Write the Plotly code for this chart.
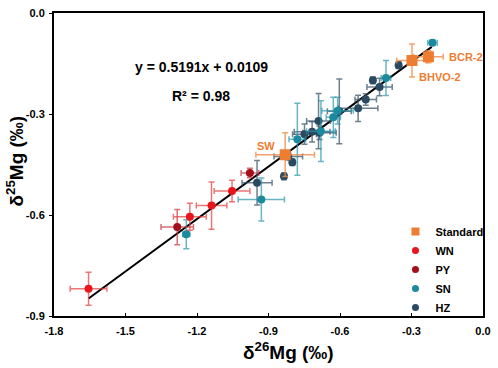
import plotly.graph_objects as go

# ---------------- data ----------------
std_names = ["SW", "BHVO-2", "BCR-2"]
std_x = [-0.830, -0.298, -0.229]
std_y = [-0.421, -0.141, -0.130]
std_xerr = [0.123, 0.064, 0.062]
std_yerr = [0.065, 0.049, 0.018]

wn_x = [-1.655, -1.230, -1.139, -1.053]
wn_y = [-0.819, -0.605, -0.572, -0.529]
wn_xerr = [0.077, 0.069, 0.064, 0.075]
wn_yerr = [0.049, 0.040, 0.070, 0.032]

py_x = [-1.283, -0.978]
py_y = [-0.636, -0.475]
py_xerr = [0.068, 0.037]
py_yerr = [0.052, 0.014]

sn_x = [-1.245, -0.930, -0.779, -0.680, -0.628, -0.610, -0.407, -0.212]
sn_y = [-0.657, -0.554, -0.375, -0.351, -0.310, -0.290, -0.193, -0.088]
sn_xerr = [0.015, 0.097, 0.035, 0.060, 0.030, 0.066, 0.020, 0.020]
sn_yerr = [0.043, 0.064, 0.107, 0.090, 0.060, 0.040, 0.052, 0.008]

hz_x = [-0.948, -0.835, -0.817, -0.800, -0.749, -0.717, -0.690, -0.686,
        -0.603, -0.524, -0.492, -0.434, -0.462, -0.354]
hz_y = [-0.504, -0.485, -0.426, -0.443, -0.360, -0.353, -0.321, -0.356,
        -0.292, -0.283, -0.257, -0.220, -0.200, -0.155]
hz_xerr = [0.063, 0.010, 0.060, 0.010, 0.050, 0.075, 0.050, 0.070,
           0.050, 0.083, 0.045, 0.053, 0.010, 0.010]
hz_yerr = [0.066, 0.010, 0.010, 0.010, 0.030, 0.030, 0.082, 0.020,
           0.096, 0.039, 0.017, 0.026, 0.010, 0.010]

fit_slope = 0.5191
fit_intercept = 0.0109
fit_x = [-1.655, -0.215]
fit_y = [fit_slope * v + fit_intercept for v in fit_x]

x_ticks = [-1.8, -1.5, -1.2, -0.9, -0.6, -0.3, 0.0]
y_ticks = [0.0, -0.3, -0.6, -0.9]

legend_names = ["Standard", "WN", "PY", "SN", "HZ"]

FONT = "Liberation Sans, Arial, sans-serif"
C_STD = "#ED7D31"
C_WN = "#E8161B"
C_PY = "#A50F1C"
C_SN = "#1B8A9E"
C_HZ = "#2B4A62"

W, H = 498, 368
L, R, T, B = 54, 10, 7, 52
pw, ph = W - L - R, H - T - B


def err(vals, color):
    return dict(type="data", array=vals, visible=True, color=color,
                thickness=1.5, width=3)


fig = go.Figure()

fig.add_trace(go.Scatter(x=fit_x, y=fit_y, mode="lines",
                         line=dict(color="black", width=2),
                         showlegend=False, hoverinfo="skip"))

series = [
    ("HZ", hz_x, hz_y, hz_xerr, hz_yerr, C_HZ, "rgba(60,85,105,0.75)", "circle", 8),
    ("SN", sn_x, sn_y, sn_xerr, sn_yerr, C_SN, "rgba(40,150,170,0.7)", "circle", 8),
    ("PY", py_x, py_y, py_xerr, py_yerr, C_PY, "rgba(200,50,60,0.7)", "circle", 8),
    ("WN", wn_x, wn_y, wn_xerr, wn_yerr, C_WN, "rgba(225,60,60,0.7)", "circle", 8),
    ("Standard", std_x, std_y, std_xerr, std_yerr, C_STD, "rgba(240,140,70,0.8)", "square", 11),
]
colors = {}
symbols = {}
for name, xs, ys, xe, ye, col, ecol, sym, sz in series:
    colors[name] = col
    symbols[name] = sym
    fig.add_trace(go.Scatter(
        x=xs, y=ys, mode="markers", name=name, showlegend=False,
        marker=dict(color=col, symbol=sym, size=sz),
        error_x=err(xe, ecol), error_y=err(ye, ecol)))

# legend entries (small symbols as in the reference)
for i, name in enumerate(legend_names):
    fig.add_trace(go.Scatter(
        x=[None], y=[None], mode="markers", name=name,
        marker=dict(color=colors[name], symbol=symbols[name],
                    size=8 if symbols[name] == "square" else 7),
        legendrank=i + 1))

ann_font = dict(family=FONT, size=14, color="black", weight="bold")
lab_font = dict(family=FONT, size=11, color=C_STD, weight="bold")
title_font = dict(family=FONT, size=19, color="black", weight="bold")
annotations = [
    dict(text="y = 0.5191x + 0.0109", x=(203 - L) / pw, y=(H - B - 62) / ph,
         xref="paper", yref="paper", xanchor="center", yanchor="middle",
         showarrow=False, font=ann_font),
    dict(text="R² = 0.98", x=(203 - L) / pw, y=(H - B - 92) / ph,
         xref="paper", yref="paper", xanchor="center", yanchor="middle",
         showarrow=False, font=ann_font),
    dict(text="BCR-2", x=-0.150, y=-0.131, xanchor="left", yanchor="middle",
         showarrow=False, font=lab_font),
    dict(text="BHVO-2", x=-0.275, y=-0.189, xanchor="left", yanchor="middle",
         showarrow=False, font=lab_font),
    dict(text="SW", x=-0.863, y=-0.396, xanchor="right", yanchor="middle",
         showarrow=False, font=lab_font),
    dict(text="δ<sup>26</sup>Mg (‰)", x=(291 - L) / pw, y=(H - B - 352) / ph,
         xref="paper", yref="paper", xanchor="center", yanchor="middle",
         showarrow=False, font=title_font),
    dict(text="δ<sup>25</sup>Mg (‰)", x=(15 - L) / pw, y=(H - B - 158) / ph,
         xref="paper", yref="paper", xanchor="center", yanchor="middle",
         textangle=-90, showarrow=False, font=title_font),
]

fig.update_layout(
    width=W, height=H,
    margin=dict(l=L, r=R, t=T, b=B),
    paper_bgcolor="white", plot_bgcolor="white",
    font=dict(family=FONT, color="black"),
    annotations=annotations,
    legend=dict(x=0.796, y=0.327, xanchor="left", yanchor="top",
                bgcolor="rgba(0,0,0,0)",
                font=dict(family=FONT, size=11, weight="bold"),
                itemsizing="trace", tracegroupgap=0),
)
fig.update_xaxes(range=[-1.8, 0.0], tickvals=x_ticks,
                 ticktext=[f"{v:.1f}" for v in x_ticks],
                 showgrid=False, zeroline=False, showline=True, linecolor="black",
                 linewidth=2, mirror=True, ticks="inside", ticklen=3,
                 ticklabelstandoff=4,
                 tickcolor="black", tickfont=dict(family=FONT, size=11, weight="bold"))
fig.update_yaxes(range=[-0.9, 0.0], tickvals=y_ticks,
                 ticktext=[f"{v:.1f}" for v in y_ticks],
                 showgrid=False, zeroline=False, showline=True, linecolor="black",
                 linewidth=2, mirror=True, ticks="outside", ticklen=3,
                 ticklabelstandoff=2,
                 tickcolor="black", tickfont=dict(family=FONT, size=11, weight="bold"))

fig.write_html("out.html", config={"displayModeBar": False},
               post_script="document.body.style.margin='0';document.body.style.padding='0';")
